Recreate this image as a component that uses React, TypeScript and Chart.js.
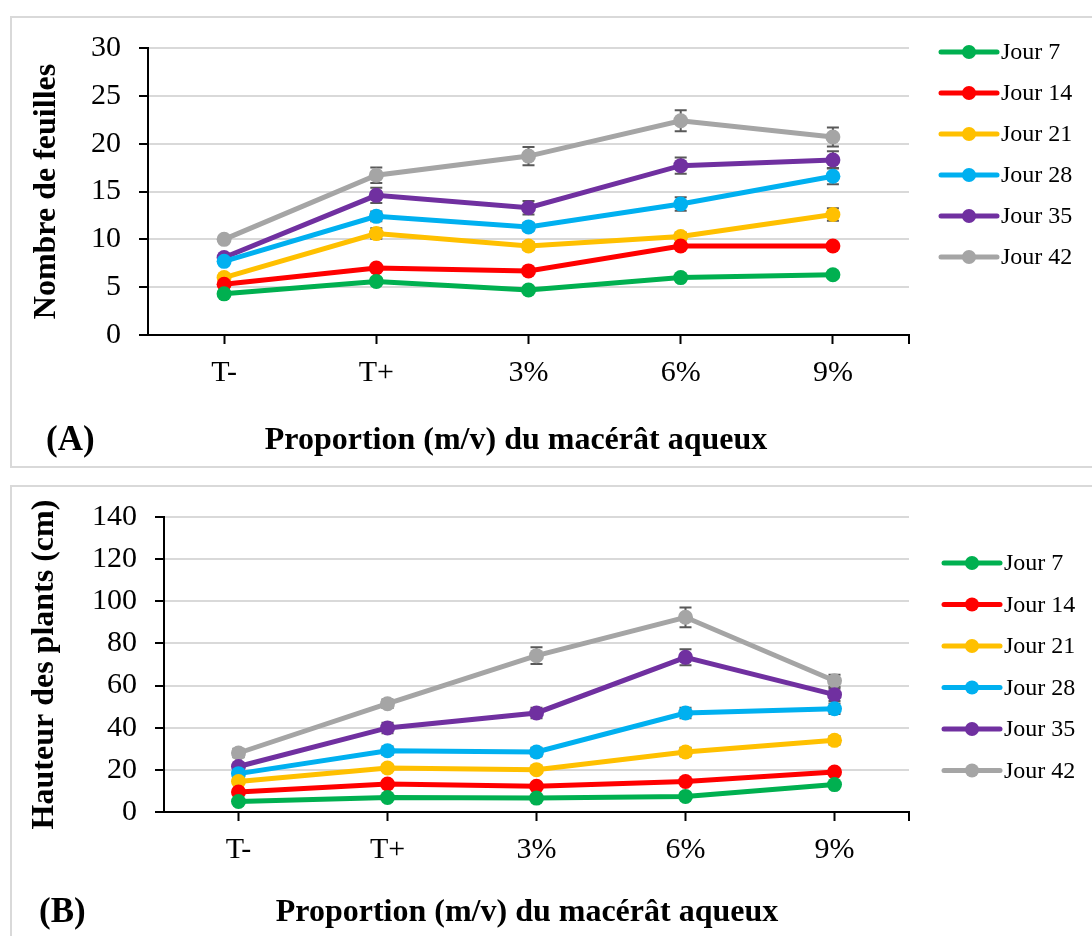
import { useEffect, useRef } from 'react';
import { Chart, registerables } from 'chart.js';

Chart.register(...registerables);

const FONT = '"Liberation Serif", "Times New Roman", serif';

const categories = ['T-', 'T+', '3%', '6%', '9%'];
const seriesLabels = ['Jour 7', 'Jour 14', 'Jour 21', 'Jour 28', 'Jour 35', 'Jour 42'];
const seriesColors = ['#00B050', '#FF0000', '#FFC000', '#00B0F0', '#7030A0', '#A5A5A5'];

// Panel A : Nombre de feuilles
const leavesJ7 = [4.3, 5.6, 4.7, 6.0, 6.3];
const leavesJ14 = [5.3, 7.0, 6.7, 9.3, 9.3];
const leavesJ21 = [6.0, 10.6, 9.3, 10.3, 12.6];
const leavesJ28 = [7.7, 12.4, 11.3, 13.7, 16.6];
const leavesJ35 = [8.1, 14.6, 13.3, 17.7, 18.3];
const leavesJ42 = [10.0, 16.7, 18.7, 22.4, 20.7];
const leavesErrJ7 = [0.2, 0.3, 0.2, 0.3, 0.3];
const leavesErrJ14 = [0.2, 0.3, 0.3, 0.3, 0.3];
const leavesErrJ21 = [0.3, 0.55, 0.4, 0.4, 0.65];
const leavesErrJ28 = [0.3, 0.5, 0.4, 0.7, 0.85];
const leavesErrJ35 = [0.3, 0.8, 0.7, 0.85, 0.9];
const leavesErrJ42 = [0.3, 0.8, 0.95, 1.1, 1.0];
const leavesTicks = { min: 0, max: 30, step: 5 };

// Panel B : Hauteur des plants (cm)
const heightJ7 = [5.0, 6.9, 6.6, 7.4, 13.0];
const heightJ14 = [9.5, 13.3, 12.2, 14.5, 19.0];
const heightJ21 = [14.5, 20.9, 20.1, 28.5, 34.0];
const heightJ28 = [18.2, 29.1, 28.5, 47.0, 49.0];
const heightJ35 = [21.6, 39.9, 47.0, 73.4, 55.7];
const heightJ42 = [28.0, 51.4, 74.2, 92.4, 62.3];
const heightErrJ7 = [0.5, 0.6, 0.6, 0.7, 1.0];
const heightErrJ14 = [0.8, 1.0, 1.0, 1.2, 1.5];
const heightErrJ21 = [1.0, 1.5, 1.5, 2.0, 2.0];
const heightErrJ28 = [1.2, 2.0, 2.0, 2.5, 2.5];
const heightErrJ35 = [1.5, 2.5, 2.5, 3.8, 3.0];
const heightErrJ42 = [2.0, 2.0, 4.0, 4.7, 2.8];
const heightTicks = { min: 0, max: 140, step: 20 };

const errorBarPlugin = {
  id: 'errorBars',
  beforeDatasetsDraw(chart: any, _args: any, opts: any) {
    const { ctx } = chart;
    const yScale = chart.scales.y;
    const errs: number[][] = opts.errors || [];
    chart.data.datasets.forEach((ds: any, i: number) => {
      const meta = chart.getDatasetMeta(i);
      meta.data.forEach((pt: any, j: number) => {
        const v = ds.data[j];
        const e = errs[i] ? errs[i][j] : 0;
        if (!e) return;
        const yTop = yScale.getPixelForValue(v + e);
        const yBot = yScale.getPixelForValue(v - e);
        ctx.save();
        ctx.strokeStyle = '#595959';
        ctx.lineWidth = 2;
        ctx.beginPath();
        ctx.moveTo(pt.x, yTop);
        ctx.lineTo(pt.x, yBot);
        ctx.moveTo(pt.x - 6, yTop);
        ctx.lineTo(pt.x + 6, yTop);
        ctx.moveTo(pt.x - 6, yBot);
        ctx.lineTo(pt.x + 6, yBot);
        ctx.stroke();
        ctx.restore();
      });
    });
  },
};

const panelTextPlugin = {
  id: 'panelText',
  afterDraw(chart: any, _args: any, opts: any) {
    const { ctx, chartArea } = chart;
    // closing tick at the right end of the category axis
    ctx.save();
    ctx.strokeStyle = '#000';
    ctx.lineWidth = 2;
    ctx.beginPath();
    ctx.moveTo(chartArea.right, chartArea.bottom);
    ctx.lineTo(chartArea.right, chartArea.bottom + 9);
    ctx.stroke();
    ctx.restore();
    (opts.items || []).forEach((it: any) => {
      ctx.save();
      ctx.fillStyle = '#000';
      ctx.font = `bold ${it.size}px ${FONT}`;
      ctx.textAlign = it.align;
      ctx.textBaseline = 'middle';
      ctx.fillText(it.text, it.x, it.y);
      ctx.restore();
    });
  },
};

const sideLegendPlugin = {
  id: 'sideLegend',
  afterDraw(chart: any, _args: any, opts: any) {
    const { ctx } = chart;
    chart.data.datasets.forEach((ds: any, i: number) => {
      const y = opts.y0 + opts.dy * i;
      const x = opts.x;
      ctx.save();
      ctx.strokeStyle = ds.borderColor;
      ctx.lineWidth = 5;
      ctx.lineCap = 'round';
      ctx.beginPath();
      ctx.moveTo(x, y);
      ctx.lineTo(x + opts.len, y);
      ctx.stroke();
      ctx.fillStyle = ds.borderColor;
      ctx.beginPath();
      ctx.arc(x + opts.len / 2, y, 7, 0, Math.PI * 2);
      ctx.fill();
      ctx.fillStyle = '#000';
      ctx.font = `${opts.size}px ${FONT}`;
      ctx.textAlign = 'left';
      ctx.textBaseline = 'middle';
      ctx.fillText(ds.label, x + opts.len + 4, y + 1);
      ctx.restore();
    });
  },
};

function buildConfig(p: any) {
  return {
    type: 'line',
    data: {
      labels: categories,
      datasets: p.series.map((d: number[], i: number) => ({
        label: seriesLabels[i],
        data: d,
        borderColor: seriesColors[i],
        backgroundColor: seriesColors[i],
        borderWidth: 5,
        pointRadius: 7.5,
        pointHoverRadius: 7.5,
        pointBorderWidth: 0,
        tension: 0,
        fill: false,
      })),
    },
    options: {
      animation: false,
      responsive: false,
      maintainAspectRatio: false,
      events: [],
      layout: { padding: { left: 0, top: p.padTop, right: p.padRight, bottom: p.padBottom } },
      plugins: {
        legend: { display: false },
        tooltip: { enabled: false },
        errorBars: { errors: p.errors },
        panelText: { items: p.texts },
        sideLegend: p.legend,
      },
      scales: {
        x: {
          offset: true,
          grid: {
            display: true,
            drawOnChartArea: false,
            drawTicks: true,
            tickLength: 9,
            tickColor: '#000',
            tickWidth: 2,
            offset: false,
          },
          border: { color: '#000', width: 2 },
          ticks: { color: '#000', font: { family: FONT, size: 30 }, padding: 11 },
          afterFit: (s: any) => {
            s.height = p.xHeight;
          },
        },
        y: {
          min: p.ticks.min,
          max: p.ticks.max,
          ticks: { stepSize: p.ticks.step, color: '#000', font: { family: FONT, size: 30 }, padding: 18 },
          grid: { color: '#D9D9D9', lineWidth: 2, tickColor: '#000', tickLength: 9, tickWidth: 2 },
          border: { color: '#000', width: 2 },
          title: {
            display: true,
            text: p.yTitle,
            color: '#000',
            font: { family: FONT, size: 32, weight: 'bold' },
            padding: { top: p.yTitlePad, bottom: 0 },
          },
          afterFit: (s: any) => {
            s.width = p.yWidth;
          },
        },
      },
    },
    plugins: [errorBarPlugin, panelTextPlugin, sideLegendPlugin],
  };
}

function Panel(props: { top: number; height: number; cfg: any }) {
  const ref = useRef<HTMLCanvasElement | null>(null);
  useEffect(() => {
    if (!ref.current) return;
    const chart = new Chart(ref.current, buildConfig(props.cfg) as any);
    return () => chart.destroy();
  }, []);
  return (
    <canvas
      ref={ref}
      width={1092}
      height={props.height}
      style={{ position: 'absolute', left: 0, top: props.top, width: 1092, height: props.height }}
    />
  );
}

const panelA = {
  series: [leavesJ7, leavesJ14, leavesJ21, leavesJ28, leavesJ35, leavesJ42],
  errors: [leavesErrJ7, leavesErrJ14, leavesErrJ21, leavesErrJ28, leavesErrJ35, leavesErrJ42],
  ticks: leavesTicks,
  yTitle: 'Nombre de feuilles',
  yTitlePad: 28,
  yWidth: 148,
  padTop: 48,
  padRight: 183,
  padBottom: 81,
  xHeight: 60,
  texts: [
    { text: '(A)', x: 46, y: 441, size: 35, align: 'left' },
    { text: 'Proportion (m/v) du macérât aqueux', x: 516, y: 441, size: 32, align: 'center' },
  ],
  legend: { x: 941, y0: 52, dy: 41, len: 56, size: 24 },
};

const panelB = {
  series: [heightJ7, heightJ14, heightJ21, heightJ28, heightJ35, heightJ42],
  errors: [heightErrJ7, heightErrJ14, heightErrJ21, heightErrJ28, heightErrJ35, heightErrJ42],
  ticks: heightTicks,
  yTitle: 'Hauteur des plants (cm)',
  yTitlePad: 26,
  yWidth: 164,
  padTop: 41,
  padRight: 183,
  padBottom: 64,
  xHeight: 60,
  texts: [
    { text: '(B)', x: 39, y: 437, size: 35, align: 'left' },
    { text: 'Proportion (m/v) du macérât aqueux', x: 527, y: 437, size: 32, align: 'center' },
  ],
  legend: { x: 944, y0: 87, dy: 41.5, len: 56, size: 24 },
};

export default function App() {
  return (
    <div style={{ position: 'absolute', left: 0, top: 0, width: 1092, height: 936, overflow: 'hidden', background: '#fff' }}>
      <div
        style={{
          position: 'absolute',
          left: 10,
          top: 16,
          width: 1200,
          height: 452,
          boxSizing: 'border-box',
          border: '2px solid #D9D9D9',
        }}
      />
      <div
        style={{
          position: 'absolute',
          left: 10,
          top: 485,
          width: 1200,
          height: 520,
          boxSizing: 'border-box',
          border: '2px solid #D9D9D9',
        }}
      />
      <Panel top={0} height={476} cfg={panelA} />
      <Panel top={476} height={460} cfg={panelB} />
    </div>
  );
}
